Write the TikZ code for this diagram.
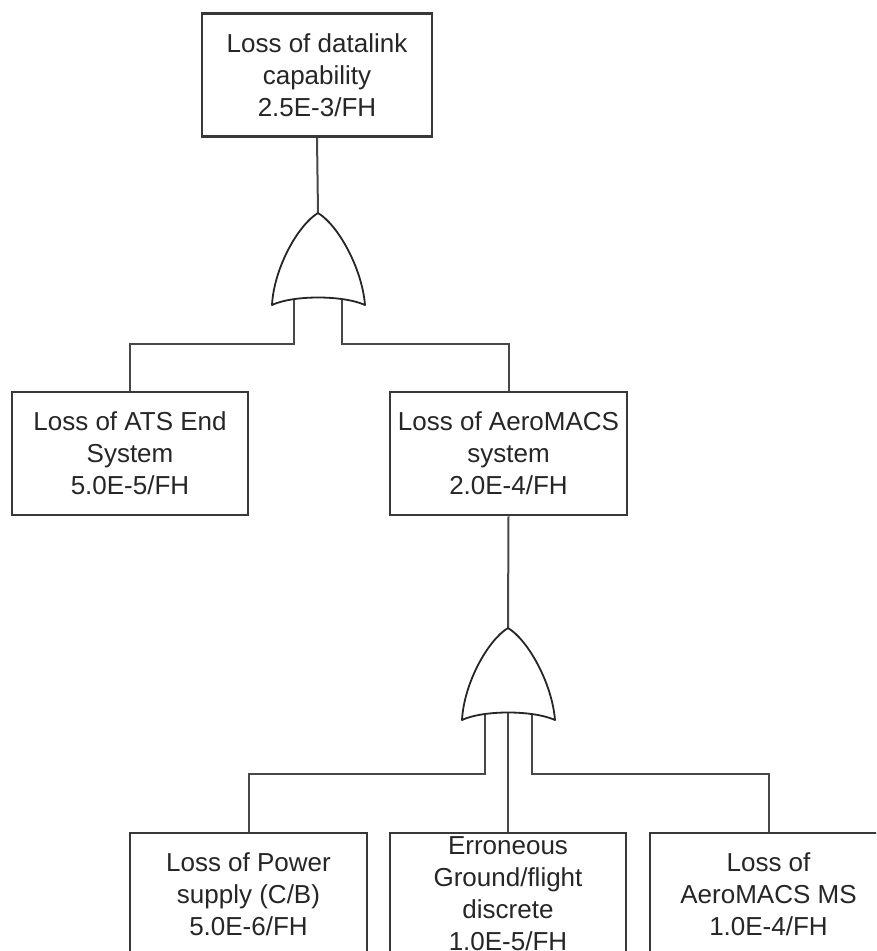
\documentclass[tikz,border=0pt]{standalone}
\usepackage{fontspec}
\setmainfont{Liberation Sans}
\begin{document}
\begin{tikzpicture}[x=1pt,y=-1pt,
  event/.style={draw=black!78, line width=2.6pt, fill=white,
    minimum width=#1, minimum height=123pt, inner sep=0pt, align=center,
    font=\fontsize{26}{32}\selectfont, text=black!85},
  event/.default=236pt,
  wire/.style={draw=black!72, line width=2pt},
  gateline/.style={draw=black!85, line width=1.8pt, fill=white, line join=round},
  orgate/.pic={
    \path[gateline] (0,0) .. controls (-20,12) and (-44,55) .. (-46,92)
      .. controls (-25,82) and (25,82) .. (47,92)
      .. controls (44,55) and (20,12) .. (0,0) -- cycle;
  }]
  \useasboundingbox (0,0) rectangle (876,951);
  \clip (0,0) rectangle (876,951);

  % events
  \node[event=230pt] (top) at (317,75) {Loss of datalink\\capability\\2.5E-3/FH};
  \node[event=236pt] (ats) at (130,453.5) {Loss of ATS End\\System\\5.0E-5/FH};
  \node[event=237pt] (aero) at (508.5,453.5) {Loss of AeroMACS\\system\\2.0E-4/FH};
  \node[event=237pt, minimum height=122pt] (pwr) at (248.5,894) {Loss of Power\\supply (C/B)\\5.0E-6/FH};
  \node[event=236pt, minimum height=122pt] (gnd) at (508,894) {Erroneous\\Ground/flight\\discrete\\1.0E-5/FH};
  \node[event=237pt, minimum height=122pt] (ms) at (768.5,894) {Loss of\\AeroMACS MS\\1.0E-4/FH};

  % gate anchor points (apex and input legs)
  \coordinate (g1) at (318,213);
  \coordinate (g1l) at (294,298);
  \coordinate (g1r) at (342,298);
  \coordinate (g2) at (508,628);
  \coordinate (g2l) at (485,714);
  \coordinate (g2c) at (508,712);
  \coordinate (g2r) at (532,714);

  % connectors
  \draw[wire] (top.south) -- (g1);
  \draw[wire] (g1l) -- ++(0,46) -| (ats.north);
  \draw[wire] (g1r) -- ++(0,46) -| (aero.north);
  \draw[wire] (aero.south) -- (g2);
  \draw[wire] (g2l) -- ++(0,60) -| (pwr.north);
  \draw[wire] (g2c) -- (gnd.north);
  \draw[wire] (g2r) -- ++(0,60) -| (ms.north);

  % OR gates
  \pic at (g1) {orgate};
  \pic at (g2) {orgate};
\end{tikzpicture}
\end{document}
